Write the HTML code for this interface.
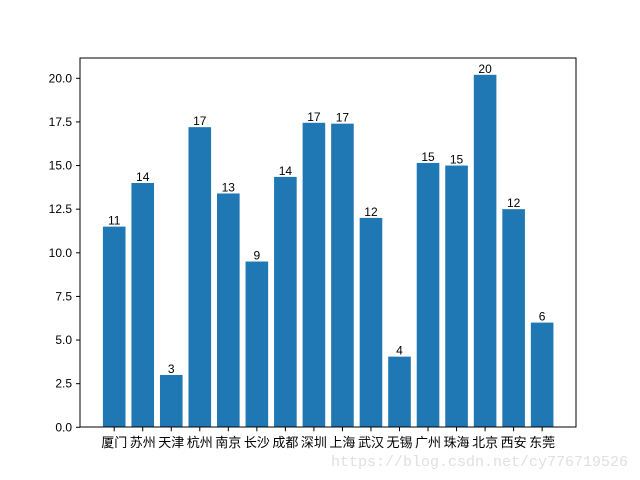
<!DOCTYPE html>
<html><head><meta charset="utf-8"><style>
html,body{margin:0;padding:0;background:#fff;}
svg{display:block;font-family:"Liberation Sans","WenQuanYi Zen Hei","Noto Sans CJK SC",sans-serif;}
</style></head><body>
<svg id="chart" width="640" height="480">
<rect x="0" y="0" width="640" height="480" fill="#fff"/>
<g id="bars"></g>
<g id="yticks"></g>
<g id="xticks"></g>
<rect x="80" y="58" width="496" height="369" fill="none" stroke="#000" stroke-width="1"/>
<text x="628" y="466" text-anchor="end" font-size="15" fill="#e0e0e0" font-family="Liberation Mono, monospace">https://blog.csdn.net/cy776719526</text>
</svg>
<script>
const categories = ["厦门","苏州","天津","杭州","南京","长沙","成都","深圳","上海","武汉","无锡","广州","珠海","北京","西安","东莞"];
const values = [11.5,14.0,3.0,17.2,13.4,9.5,14.35,17.45,17.4,12.0,4.05,15.15,15.0,20.2,12.5,6.0];
const valueLabels = ["11","14","3","17","13","9","14","17","17","12","4","15","15","20","12","6"];
const yTicks = [0,2.5,5,7.5,10,12.5,15,17.5,20];
const yTickLabels = ["0.0","2.5","5.0","7.5","10.0","12.5","15.0","17.5","20.0"];

const NS = "http://www.w3.org/2000/svg";
const y0 = 427.3, pxPerUnit = (427.3 - 78.3) / 20;
function yScale(v){ return y0 - v * pxPerUnit; }
const step = 28.53, firstCenter = 114.2, barW = 22.6;
function xScale(i){ return firstCenter + i * step; }
function mk(tag, attrs){ const e = document.createElementNS(NS, tag); for (const k in attrs) e.setAttribute(k, attrs[k]); return e; }

const bars = document.getElementById('bars');
const xg = document.getElementById('xticks');
categories.forEach((c, i) => {
  const cx = xScale(i), top = yScale(values[i]);
  const r = mk('rect', {x: cx - barW/2, y: top, width: barW, height: y0 - top, fill: '#1f77b4'});
  
  
  bars.appendChild(r);
  const t = mk('text', {x: cx, y: top - 2, 'text-anchor': 'middle', 'font-size': '12', fill: '#000'});
  t.textContent = valueLabels[i];
  
  
  bars.appendChild(t);
  const tk = mk('line', {x1: cx, x2: cx, y1: y0, y2: y0 + 4, stroke: '#000'});
  
  
  xg.appendChild(tk);
  const lb = mk('text', {x: cx, y: 447, 'text-anchor': 'middle', 'font-size': '13', fill: '#000'});
  lb.textContent = c;
  
  
  xg.appendChild(lb);
});
const yg = document.getElementById('yticks');
yTicks.forEach((v, i) => {
  const y = yScale(v);
  const tk = mk('line', {x1: 76, x2: 80, y1: y, y2: y, stroke: '#000'});
  
  
  yg.appendChild(tk);
  const lb = mk('text', {x: 72, y: y + 4, 'text-anchor': 'end', 'font-size': '12', fill: '#000'});
  lb.textContent = yTickLabels[i];
  
  
  yg.appendChild(lb);
});
</script>
</body></html>
